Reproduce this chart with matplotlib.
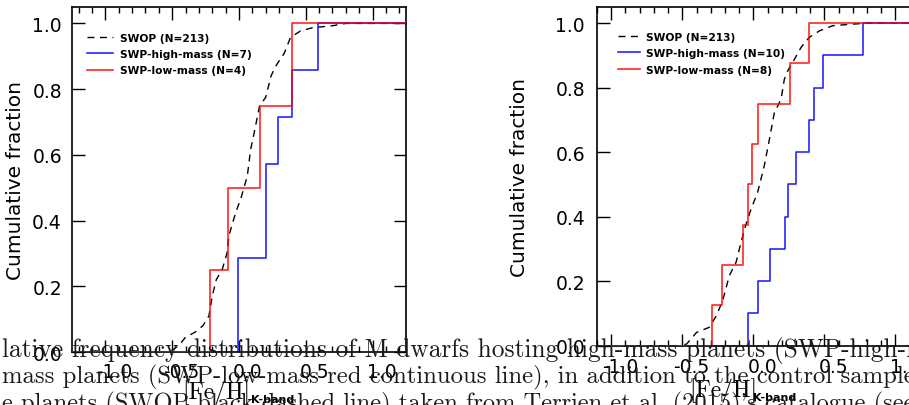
import numpy as np
import matplotlib.pyplot as plt
from matplotlib.ticker import MultipleLocator
from matplotlib.transforms import ScaledTranslation

# ---- left panel: [Fe/H] values ----
left_high = [-0.005, -0.005, 0.20, 0.20, 0.295, 0.395, 0.595]
left_low = [-0.22, -0.085, 0.155, 0.395]
left_swop_x = [-1.25, -0.52, -0.45, -0.40, -0.33, -0.27, -0.225, -0.20, -0.17, -0.125,
               -0.09, -0.075, -0.05, -0.02, 0.0125, 0.0625, 0.0875, 0.11, 0.125, 0.155,
               0.20, 0.24, 0.275, 0.34, 0.385, 0.46, 0.55, 0.70, 0.80, 1.25]
left_swop_y = [0.0, 0.0, 0.02, 0.045, 0.06, 0.08, 0.11, 0.17, 0.22, 0.252,
               0.30, 0.354, 0.39, 0.43, 0.465, 0.536, 0.617, 0.66, 0.69, 0.75,
               0.775, 0.84, 0.87, 0.91, 0.957, 0.977, 0.987, 0.993, 1.0, 1.0]
left_labels = ['SWOP (N=213)', 'SWP-high-mass (N=7)', 'SWP-low-mass (N=4)']

# ---- right panel ----
right_high = [-0.04, 0.03, 0.117, 0.225, 0.242, 0.30, 0.394, 0.425, 0.493, 0.775]
right_low = [-0.29, -0.22, -0.07, -0.035, -0.01, 0.03, 0.26, 0.395]
right_swop_x = [-1.1, -0.52, -0.47, -0.40, -0.31, -0.26, -0.216, -0.169, -0.122, -0.087,
                -0.055, -0.016, 0.03, 0.077, 0.10, 0.113, 0.148, 0.195, 0.218, 0.242,
                0.289, 0.336, 0.394, 0.465, 0.558, 0.70, 0.82, 1.25]
right_swop_y = [0.0, 0.0, 0.005, 0.041, 0.057, 0.093, 0.14, 0.217, 0.258, 0.32,
                0.372, 0.424, 0.475, 0.558, 0.61, 0.64, 0.723, 0.764, 0.826, 0.852,
                0.888, 0.925, 0.956, 0.976, 0.992, 0.997, 1.0, 1.0]
right_labels = ['SWOP (N=213)', 'SWP-high-mass (N=10)', 'SWP-low-mass (N=8)']

xticks = [-1.0, -0.5, 0.0, 0.5, 1.0]
yticks = [0.0, 0.2, 0.4, 0.6, 0.8, 1.0]

caption = [
    "lative frequency distributions of M dwarfs hosting high-mass planets (SWP-high-mass",
    "mass planets (SWP-low-mass red continuous line), in addition to the control sample",
    "e planets (SWOP black dashed line) taken from Terrien et al. (2015)'s catalogue (see",
]
# justified lines in the page, so each one has its own width
caption_size = [18.3, 17.8, 17.6]

fig = plt.figure(figsize=(9.09, 4.06), dpi=100)
ax1 = fig.add_axes([0.0792, 0.1305, 0.3674, 0.8498])
ax2 = fig.add_axes([0.6568, 0.1461, 0.3674, 0.8342])


def ecdf_steps(vals, xmin, xmax):
    vals = np.sort(vals)
    n = len(vals)
    xs = np.r_[xmin, vals, xmax]
    ys = np.r_[0, np.arange(1, n + 1) / n, 1.0]
    return xs, ys


def panel(ax, xlim, swop_x, swop_y, high, low, labels, leg_anchor, handlelen,
          ylab_x, xpad, ypad, feh_pos, sub_pos):
    h0, = ax.plot(swop_x, swop_y, color='black', lw=1.0, ls=(0, (5, 4)), zorder=3)
    xs, ys = ecdf_steps(high, xlim[0], xlim[1])
    h1, = ax.step(xs, ys, where='post', color='blue', lw=1.2, alpha=0.85, zorder=3)
    xs, ys = ecdf_steps(low, xlim[0], xlim[1])
    h2, = ax.step(xs, ys, where='post', color='red', lw=1.2, alpha=0.85, zorder=3)

    ax.set_xlim(*xlim)
    ax.set_ylim(0, 1.05)
    ax.set_xticks(xticks)
    ax.xaxis.set_minor_locator(MultipleLocator(0.1))
    ax.set_yticks(yticks)
    ax.set_xticklabels(['%.1f' % t for t in xticks])
    ax.set_yticklabels(['%.1f' % t for t in yticks])
    ax.tick_params(which='both', direction='in', top=True, right=True,
                   labelsize=13.5, width=1.0)
    ax.tick_params(which='major', length=9)
    ax.tick_params(which='minor', length=4.5)
    ax.tick_params(axis='x', pad=xpad)
    ax.tick_params(axis='y', pad=ypad)
    for sp in ax.spines.values():
        sp.set_linewidth(1.2)

    # PGPLOT puts the x labels a bit right of the ticks
    shift = ScaledTranslation(0.09, 0, fig.dpi_scale_trans)
    for lab in ax.get_xticklabels():
        lab.set_transform(lab.get_transform() + shift)

    ax.set_ylabel('Cumulative fraction', fontsize=14.5)
    ax.yaxis.set_label_coords(ylab_x, 0.5)

    ax.text(feh_pos[0], feh_pos[1], '[Fe/H]', transform=ax.transAxes,
            ha='center', va='top', fontsize=17, family=['cmr10', 'DejaVu Serif'])
    ax.text(sub_pos[0], sub_pos[1], 'K-band', transform=ax.transAxes,
            ha='left', va='top', fontsize=8, fontweight='bold')

    ax.legend([h0, h1, h2], labels, loc='upper left', bbox_to_anchor=leg_anchor,
              frameon=False, borderpad=0, borderaxespad=0, handlelength=handlelen,
              handletextpad=0.6, labelspacing=0.6,
              prop={'size': 7.7, 'weight': 'bold'})


panel(ax1, (-1.25, 1.25), left_swop_x, left_swop_y, left_high, left_low, left_labels,
      (0.044, 0.926), 2.5, -0.141, 7.2, 7.2, (0.431, -0.08), (0.536, -0.122))
panel(ax2, (-1.1, 1.25), right_swop_x, right_swop_y, right_high, right_low, right_labels,
      (0.064, 0.927), 2.0, -0.204, 8.0, 8.6, (0.377, -0.094), (0.467, -0.137))

# caption of the paper page, overlapping the figure
cap_y = [0.1207, 0.0567, -0.0099]
for txt, y, fs in zip(caption, cap_y, caption_size):
    fig.text(0.002, y, txt, ha='left', va='baseline', fontsize=fs,
             color='#1a1a1a', family=['cmr10', 'DejaVu Serif'], zorder=5)

fig.savefig('out.png', dpi=100)
